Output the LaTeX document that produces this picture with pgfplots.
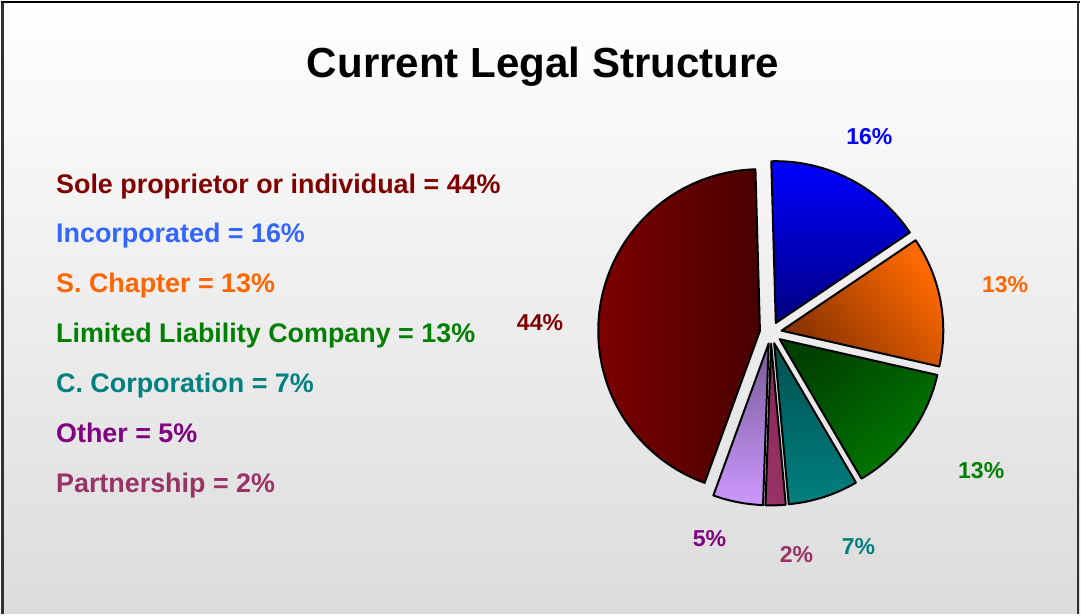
\documentclass[border=0pt]{standalone}
\usepackage{pgfplots}
\pgfplotsset{compat=1.18}
\usepackage{fontspec}
\setmainfont{Liberation Sans}

% ---- data (percent shares, clockwise from 12 o'clock) ----
\def\vInc{16}
\def\vSch{13}
\def\vLLC{13}
\def\vCco{7}
\def\vPar{2}
\def\vOth{5}
\def\vSol{44}

% ---- geometry in reference pixels ----
\def\cx{771.2}
\def\cy{332.3}
\def\rr{162}
\def\ex{11}
\def\astart{91.6}

\definecolor{tSol}{HTML}{800000}
\definecolor{tInc}{HTML}{3366FF}
\definecolor{tSch}{HTML}{FF6600}
\definecolor{tLLC}{HTML}{008000}
\definecolor{tCco}{HTML}{008080}
\definecolor{tOth}{HTML}{800080}
\definecolor{tPar}{HTML}{993366}
\definecolor{pBlue}{HTML}{0000FF}

\pgfplotsset{
  sInc/.style={top color={rgb,255:red,0;green,0;blue,255}, bottom color={rgb,255:red,0;green,0;blue,130}},
  sSch/.style={top color={rgb,255:red,255;green,106;blue,0}, bottom color={rgb,255:red,135;green,50;blue,0}, shading angle=-50},
  sLLC/.style={top color={rgb,255:red,0;green,64;blue,0}, bottom color={rgb,255:red,0;green,122;blue,0}, shading angle=40},
  sCco/.style={top color={rgb,255:red,0;green,80;blue,80}, bottom color={rgb,255:red,0;green,128;blue,128}},
  sPar/.style={top color={rgb,255:red,135;green,40;blue,90}, bottom color={rgb,255:red,153;green,51;blue,102}},
  sOth/.style={top color={rgb,255:red,120;green,90;blue,150}, bottom color={rgb,255:red,204;green,153;blue,255}},
  sSol/.style={left color={rgb,255:red,125;green,0;blue,0}, right color={rgb,255:red,72;green,0;blue,0}},
}

\newcommand\slice[3]{%
  \pgfmathsetmacro\smid{(#1+#2)/2}%
  \pgfmathsetmacro\sx{\cx+\ex*cos(\smid)}%
  \pgfmathsetmacro\sy{\cy-\ex*sin(\smid)}%
  \edef\doslice{\noexpand\addplot[#3, draw=black, line width=1.5pt, line join=round,
      domain=#2:#1, samples=90, variable=\noexpand\t]
    ({\sx+\rr*cos(\noexpand\t)},{\sy-\rr*sin(\noexpand\t)}) -- (axis cs:\sx,\sy) -- cycle;}%
  \doslice}

\begin{document}
\begin{tikzpicture}
\begin{axis}[
  width=810.75pt, height=460.5pt, scale only axis,
  xmin=0, xmax=1081, ymin=0, ymax=614, y dir=reverse,
  hide axis, clip=false,
]
% background
\shade[top color={rgb,255:red,255;green,255;blue,255}, bottom color={rgb,255:red,220;green,220;blue,220}]
  (axis cs:0,0) rectangle (axis cs:1081,614);
\draw[line width=2.25pt, color={rgb,255:red,50;green,50;blue,50}] (axis cs:1.5,614) -- (axis cs:1.5,0.9);
\draw[line width=1.5pt, black] (axis cs:0,0.9) -- (axis cs:1081,0.9);
\draw[line width=1.5pt, color={rgb,255:red,50;green,50;blue,50}] (axis cs:1079.2,0) -- (axis cs:1079.2,614);

% angles
\pgfmathsetmacro\aA{\astart}
\pgfmathsetmacro\aB{\aA-3.6*\vInc}
\pgfmathsetmacro\aC{\aB-3.6*\vSch}
\pgfmathsetmacro\aD{\aC-3.6*\vLLC}
\pgfmathsetmacro\aE{\aD-3.6*\vCco}
\pgfmathsetmacro\aF{\aE-3.6*\vPar}
\pgfmathsetmacro\aG{\aF-3.6*\vOth}
\pgfmathsetmacro\aH{\aG-3.6*\vSol}

\slice{\aA}{\aB}{sInc}
\slice{\aB}{\aC}{sSch}
\slice{\aC}{\aD}{sLLC}
\slice{\aD}{\aE}{sCco}
\slice{\aE}{\aF}{sPar}
\slice{\aF}{\aG}{sOth}
\slice{\aG}{\aH}{sSol}

% title
\node[anchor=base, inner sep=0pt, font=\bfseries\fontsize{31.6}{36}\selectfont] at (axis cs:543,77) {Current Legal Structure};

% legend text
\begin{scope}[every node/.style={anchor=base west, inner sep=0pt, font=\bfseries\fontsize{20.2}{22}\selectfont}]
\node[text=tSol] at (axis cs:55,192.5) {Sole proprietor or individual = \vSol\%};
\node[text=tInc] at (axis cs:55,242) {Incorporated = \vInc\%};
\node[text=tSch] at (axis cs:55,292) {S. Chapter = \vSch\%};
\node[text=tLLC] at (axis cs:55,342) {Limited Liability Company = \vLLC\%};
\node[text=tCco] at (axis cs:55,392) {C. Corporation = \vCco\%};
\node[text=tOth] at (axis cs:55,442) {Other = \vOth\%};
\node[text=tPar] at (axis cs:55,492) {Partnership = \vPar\%};
\end{scope}

% slice labels
\begin{scope}[every node/.style={anchor=base, inner sep=0pt, font=\bfseries\fontsize{17.3}{20}\selectfont}]
\node[text=pBlue] at (axis cs:870,143.3) {\vInc\%};
\node[text=tSch] at (axis cs:1006,291.7) {\vSch\%};
\node[text=tSol] at (axis cs:540,330) {\vSol\%};
\node[text=tLLC] at (axis cs:982,478.3) {\vLLC\%};
\node[text=tCco] at (axis cs:859,554.3) {\vCco\%};
\node[text=tPar] at (axis cs:797,562.8) {\vPar\%};
\node[text=tOth] at (axis cs:709.7,546.5) {\vOth\%};
\end{scope}
\end{axis}
\end{tikzpicture}
\end{document}
